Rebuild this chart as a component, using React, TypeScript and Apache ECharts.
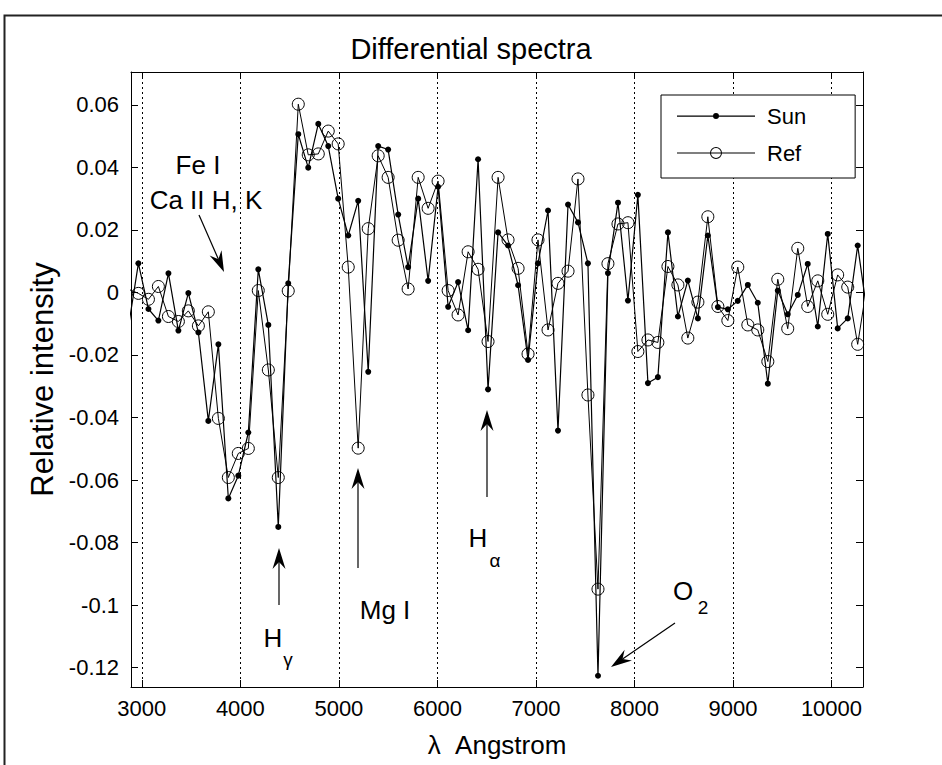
import React, { useEffect, useRef } from "react";
import * as echarts from "echarts";

// Wavelength of each binned point (Angstrom)
const wavelengths = [
  2864, 2965, 3067, 3168, 3270, 3371, 3472, 3574, 3675, 3777,
  3878, 3979, 4081, 4182, 4284, 4385, 4486, 4588, 4689, 4791,
  4892, 4993, 5095, 5196, 5298, 5399, 5500, 5602, 5703, 5805,
  5906, 6007, 6109, 6210, 6312, 6413, 6514, 6616, 6717, 6819,
  6920, 7021, 7123, 7224, 7326, 7427, 7528, 7630, 7731, 7833,
  7934, 8035, 8137, 8238, 8340, 8441, 8542, 8644, 8745, 8847,
  8948, 9049, 9151, 9252, 9354, 9455, 9556, 9658, 9759, 9861,
  9962, 10063, 10165, 10266, 10368,
];

const sunValues = [
  -0.011, 0.0093, -0.0053, -0.009, 0.0061, -0.0122, -0.0002, -0.0128, -0.0411, -0.0166,
  -0.0659, -0.0586, -0.0448, 0.0074, -0.0104, -0.075, 0.0029, 0.0506, 0.0399, 0.0539,
  0.0468, 0.03, 0.0182, 0.0293, -0.0254, 0.0468, 0.0457, 0.0249, 0.0081, 0.03,
  0.0037, 0.0338, -0.0046, 0.0033, -0.0121, 0.0426, -0.031, 0.0192, 0.015, 0.0023,
  -0.0216, 0.0093, 0.0262, -0.0442, 0.0281, 0.0224, 0.0093, -0.1226, 0.0062, 0.0287,
  -0.0026, 0.0312, -0.029, -0.0271, 0.0192, -0.0077, 0.0038, -0.0083, 0.0182, -0.0047,
  -0.0054, -0.0027, 0.0024, -0.0033, -0.0292, 0.0006, -0.007, -0.0008, 0.0091, -0.0109,
  0.0187, -0.0115, -0.0083, 0.015, -0.008,
];

const refValues = [
  0.001, -0.0003, -0.0022, 0.0019, -0.0077, -0.0093, -0.0059, -0.0107, -0.0062, -0.0403,
  -0.0592, -0.0515, -0.0499, 0.0006, -0.0248, -0.0592, 0.0005, 0.0602, 0.044, 0.0443,
  0.0516, 0.0475, 0.0081, -0.0498, 0.0204, 0.0437, 0.0368, 0.0167, 0.0011, 0.0368,
  0.0269, 0.0356, 0.0006, -0.0072, 0.013, 0.0074, -0.0157, 0.0368, 0.0168, 0.0077,
  -0.0197, 0.0168, -0.012, 0.0029, 0.0068, 0.0363, -0.0328, -0.0949, 0.0092, 0.0219,
  0.0223, -0.0189, -0.0152, -0.016, 0.0083, 0.0024, -0.0146, -0.0031, 0.0242, -0.0045,
  -0.009, 0.0081, -0.0104, -0.012, -0.0221, 0.0042, -0.0116, 0.0141, -0.0045, 0.0037,
  -0.007, 0.0056, 0.0017, -0.0166, 0.004,
];

const xTicks = [3000, 4000, 5000, 6000, 7000, 8000, 9000, 10000];
const yTicks = [-0.12, -0.1, -0.08, -0.06, -0.04, -0.02, 0, 0.02, 0.04, 0.06];

const FONT = "'Liberation Sans', Arial, Helvetica, sans-serif";

function arrow(x1: number, y1: number, x2: number, y2: number) {
  const dx = x2 - x1;
  const dy = y2 - y1;
  const len = Math.sqrt(dx * dx + dy * dy);
  const ux = dx / len;
  const uy = dy / len;
  const px = -uy;
  const py = ux;
  const L = 21;
  const W = 6.5;
  const N = 14;
  const bx = x2 - L * ux;
  const by = y2 - L * uy;
  const nx = x2 - N * ux;
  const ny = y2 - N * uy;
  return [
    {
      type: "line",
      shape: { x1, y1, x2: nx, y2: ny },
      style: { stroke: "#000", lineWidth: 1.2 },
    },
    {
      type: "polygon",
      shape: {
        points: [
          [x2, y2],
          [bx + W * px, by + W * py],
          [nx, ny],
          [bx - W * px, by - W * py],
        ],
      },
      style: { fill: "#000" },
    },
  ];
}

function label(text: string, x: number, y: number, size = 26) {
  return {
    type: "text",
    x,
    y,
    style: {
      text,
      font: `${size}px ${FONT}`,
      fill: "#000",
      align: "center",
      verticalAlign: "middle",
    },
  };
}

const sunIcon =
  "path://M0 0 L0 0 M85 13 L85 13 M0 6 L78 6 L78 7.2 L0 7.2 Z M39 3.6 A3 3 0 1 1 39 9.6 A3 3 0 1 1 39 3.6 Z";
const refIcon =
  "path://M0 0 L0 0 M85 13 L85 13 M0 6 L78 6 L78 7 L0 7 Z M39 0.5 A6 6 0 1 1 39 12.5 A6 6 0 1 1 39 0.5 Z M39 1.5 A5 5 0 1 0 39 11.5 A5 5 0 1 0 39 1.5 Z";

export default function App() {
  const ref = useRef<HTMLDivElement>(null);

  useEffect(() => {
    if (!ref.current) return;
    const chart = echarts.init(ref.current, undefined, { renderer: "svg" });

    const sunData = wavelengths.map((w, i) => [w, sunValues[i]]);
    const refData = wavelengths.map((w, i) => [w, refValues[i]]);

    const xMin = 2890;
    const xMax = 10320;
    const yMin = -0.1262;
    const yMax = 0.0705;

    const tickStyle = { show: true, inside: true, length: 7, lineStyle: { color: "#000", width: 1 } };
    const axisLine = { show: true, onZero: false, lineStyle: { color: "#000", width: 1 } };

    chart.setOption({
      animation: false,
      backgroundColor: "#fff",
      title: {
        text: "Differential spectra",
        left: "center",
        top: 29,
        textStyle: { fontFamily: FONT, fontSize: 29, fontWeight: "normal", color: "#000" },
      },
      legend: {
        left: 661,
        top: 95,
        orient: "vertical",
        padding: [10, 49, 14, 16],
        itemGap: 15,
        itemWidth: 85,
        itemHeight: 13,
        borderColor: "#000",
        borderWidth: 1,
        backgroundColor: "#fff",
        selectedMode: false,
        itemStyle: { color: "#000", borderWidth: 0 },
        textStyle: { fontFamily: FONT, fontSize: 22, color: "#000", lineHeight: 22 },
        data: [
          { name: "Sun", icon: sunIcon },
          { name: "Ref", icon: refIcon },
        ],
      },
      grid: { left: 131, top: 72, width: 732, height: 615, containLabel: false },
      xAxis: [
        {
          type: "value",
          min: xMin,
          max: xMax,
          position: "bottom",
          name: "\u03bb  Angstrom",
          nameLocation: "middle",
          nameGap: 45,
          nameTextStyle: { fontFamily: FONT, fontSize: 26, color: "#000" },
          axisLine,
          axisTick: { ...tickStyle, customValues: xTicks },
          axisLabel: {
            customValues: xTicks,
            fontFamily: FONT,
            fontSize: 22,
            color: "#000",
            margin: 10,
            formatter: (v: number) => String(v),
          },
          splitLine: { show: true, lineStyle: { color: "#000", width: 1, type: [2, 3] } },
        },
        {
          type: "value",
          min: xMin,
          max: xMax,
          position: "top",
          axisLine,
          axisTick: { ...tickStyle, customValues: xTicks },
          axisLabel: { show: false },
          splitLine: { show: false },
        },
      ],
      yAxis: [
        {
          type: "value",
          min: yMin,
          max: yMax,
          position: "left",
          name: "Relative intensity",
          nameLocation: "middle",
          nameGap: 72,
          nameTextStyle: { fontFamily: FONT, fontSize: 31, color: "#000" },
          axisLine,
          axisTick: { ...tickStyle, customValues: yTicks },
          axisLabel: {
            customValues: yTicks,
            fontFamily: FONT,
            fontSize: 22,
            color: "#000",
            margin: 12,
            formatter: (v: number) => String(Math.round(v * 100) / 100),
          },
          splitLine: { show: false },
        },
        {
          type: "value",
          min: yMin,
          max: yMax,
          position: "right",
          axisLine,
          axisTick: { ...tickStyle, customValues: yTicks },
          axisLabel: { show: false },
          splitLine: { show: false },
        },
      ],
      series: [
        {
          name: "Sun",
          type: "line",
          data: sunData,
          xAxisIndex: 0,
          yAxisIndex: 0,
          clip: true,
          symbol: "circle",
          symbolSize: 6,
          lineStyle: { color: "#000", width: 1.2 },
          itemStyle: { color: "#000" },
          z: 3,
        },
        {
          name: "Ref",
          type: "line",
          data: refData,
          xAxisIndex: 0,
          yAxisIndex: 0,
          clip: true,
          symbol: "circle",
          symbolSize: 12,
          lineStyle: { color: "#000", width: 1 },
          itemStyle: { color: "rgba(0,0,0,0)", borderColor: "#000", borderWidth: 1 },
          z: 4,
        },
      ],
      graphic: [
        {
          type: "rect",
          shape: { x: 4.5, y: 15.5, width: 960, height: 780 },
          style: { fill: "none", stroke: "#222", lineWidth: 2 },
          silent: true,
        },
        label("Fe I", 198, 165),
        label("Ca II H, K", 206, 200),
        ...arrow(199, 215, 224, 272),
        ...arrow(279, 605, 279, 548),
        label("H", 273, 638),
        label("\u03b3", 288, 659, 19),
        ...arrow(358, 568, 358, 468),
        label("Mg I", 385, 610),
        ...arrow(487, 497, 487, 410),
        label("H", 478, 538),
        label("\u03b1", 495, 560, 19),
        ...arrow(675, 623, 611, 667),
        label("O", 683, 591),
        label("2", 703, 607, 19),
      ],
    });

    return () => chart.dispose();
  }, []);

  return (
    <div
      ref={ref}
      style={{ position: "fixed", left: 0, top: 0, width: 942, height: 765, background: "#fff" }}
    />
  );
}
